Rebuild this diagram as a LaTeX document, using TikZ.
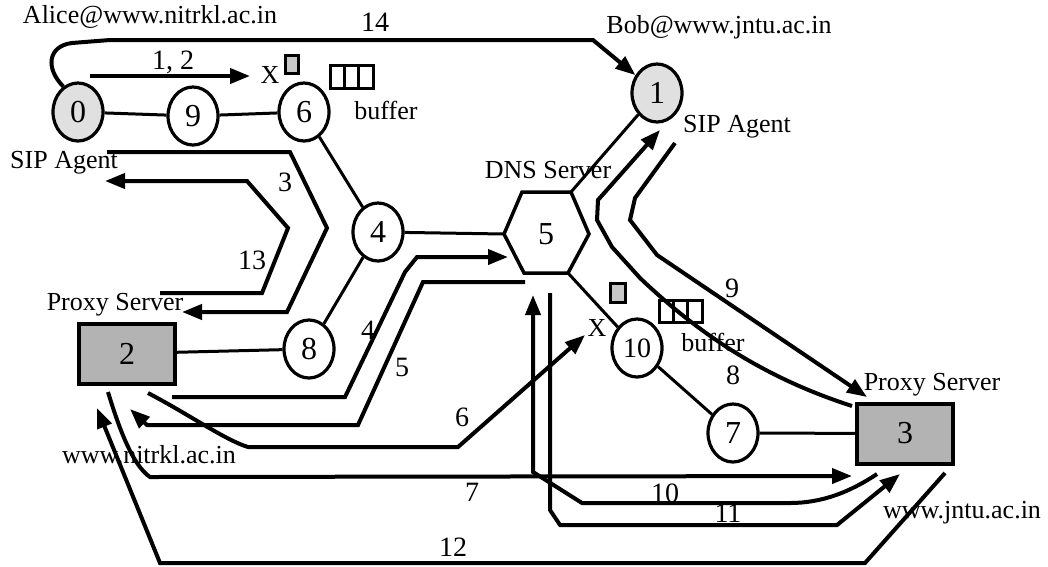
\documentclass[tikz,border=0pt]{standalone}
\usepackage{fontspec}
\setmainfont{Liberation Serif}
\usetikzlibrary{arrows.meta,shapes.geometric}
\definecolor{agentgray}{HTML}{E0E0E0}
\definecolor{proxygray}{HTML}{B3B3B3}
\definecolor{pktgray}{HTML}{C8C8C8}
\begin{document}
\begin{tikzpicture}[x=1pt,y=-1pt,
  router/.style={ellipse,draw,line width=3.2pt,minimum width=50pt,minimum height=58pt,inner sep=0pt,font=\fontsize{32}{32}\selectfont,fill=white},
  agent/.style={router,fill=agentgray},
  proxy/.style={rectangle,draw,line width=4pt,fill=proxygray,minimum width=96pt,minimum height=60pt,inner sep=0pt,font=\fontsize{32}{32}\selectfont},
  link/.style={line width=3pt},
  msg/.style={line width=4pt,line join=miter},
  arr/.style={msg,-{Triangle[length=20pt,width=15pt]}},
  txt/.style={inner sep=0pt,font=\fontsize{26}{28}\selectfont},
  num/.style={inner sep=0pt,font=\fontsize{28}{28}\selectfont},
  pkt/.style={draw,line width=3pt,fill=pktgray},
  buf/.style={draw,line width=3pt},
]
\useasboundingbox (0,0) rectangle (1048,566);

% ---------- nodes ----------
\node[agent]  (n0) at (78,112) {0};
\node[router] (n9) at (193,116) {9};
\node[router] (n6) at (304,112) {6};
\node[agent]  (n1) at (657,93) {1};
\node[router] (n4) at (378,232) {4};
\node[router] (n8) at (309,349) {8};
\node[router,font=\fontsize{28}{28}\selectfont] (n10) at (637,348) {10};
\node[router] (n7) at (733,433) {7};
\node[proxy]  (n2) at (127,353.5) {2};
\node[proxy]  (n3) at (905,433.5) {3};

% DNS hexagon
\coordinate (hL)  at (504,234);
\coordinate (hTL) at (522,192);
\coordinate (hTR) at (571,192);
\coordinate (hR)  at (589,234);
\coordinate (hBR) at (568,273);
\coordinate (hBL) at (524,273);
\draw[line width=3.5pt,line join=miter,fill=white] (hL) -- (hTL) -- (hTR) -- (hR) -- (hBR) -- (hBL) -- cycle;
\node[inner sep=0pt,font=\fontsize{32}{32}\selectfont] (n5) at (546,234) {5};

% ---------- links ----------
\draw[link] (n0) -- (n9);
\draw[link] (n9) -- (n6);
\draw[link] (n6) -- (n4);
\draw[link] (n4) -- (n8);
\draw[link] (n2) -- (n8);
\draw[link] (n4) -- (hL);
\draw[link] (hTR) -- (n1);
\draw[link] (hBR) -- (n10);
\draw[link] (n10) -- (n7);
\draw[link] (n7) -- (n3);

% ---------- packets and buffers ----------
\draw[pkt] (285,55) rectangle (298,73);
\draw[buf] (330,65) rectangle (373,88);
\draw[buf] (344.3,65) -- (344.3,88) (358.7,65) -- (358.7,88);
\draw[pkt] (610,283) rectangle (625,302);
\draw[buf] (659,300) rectangle (702,322);
\draw[buf] (673.3,300) -- (673.3,322) (687.7,300) -- (687.7,322);

% ---------- texts ----------
\node[txt] (tAlice) at (150,17) {Alice@www.nitrkl.ac.in};
\node[txt] (tBob) at (719,27) {Bob@www.jntu.ac.in};
\node[txt] (tSIPa) at (64,163) {SIP Agent};
\node[txt] (tSIPb) at (737,127) {SIP Agent};
\node[txt] (tDNS) at (548,170) {DNS Server};
\node[txt] (tProxyA) at (115,305) {Proxy Server};
\node[txt] (tProxyB) at (932,385) {Proxy Server};
\node[txt] (tDomA) at (149,455) {www.nitrkl.ac.in};
\node[txt] (tDomB) at (962,513) {www.jntu.ac.in};
\node[txt] (tBufA) at (386,110) {buffer};
\node[txt] (tBufB) at (713,342) {buffer};
\node[txt] (tXa) at (270,75) {X};
\node[txt] (tXb) at (597,328) {X};

% ---------- message labels ----------
\node[num] (l12) at (173,62) {1, 2};
\node[num] (l14) at (375,22) {14};
\node[num] (l3) at (285,182) {3};
\node[num] (l13) at (252,260) {13};
\node[num] (l4) at (368,330) {4};
\node[num] (l5) at (402,367) {5};
\node[num] (l6) at (462,417) {6};
\node[num] (l7) at (472,492) {7};
\node[num] (l8) at (733,375) {8};
\node[num] (l9) at (732,288) {9};
\node[num] (l10) at (665,493) {10};
\node[num] (l11) at (728,513) {11};
\node[num] (l12b) at (453,547) {12};

% ---------- message paths ----------
% 1, 2
\coordinate (m1s) at (90,76);
\coordinate (m1e) at (250,76);
\draw[arr] (m1s) -- (m1e);
% 14
\draw[arr] (n0.120) .. controls (45,68) and (48,46) .. (72,43) -- (110,40) -- (593,40) -- (n1);
% 3
\coordinate (m3s) at (107,152);
\coordinate (m3e) at (182,312);
\draw[arr] (m3s) -- (290,152) -- (327,228) -- (287,312) -- (m3e);
% 13
\coordinate (m13s) at (160,293);
\coordinate (m13e) at (105,181);
\draw[arr] (m13s) -- (262,293) -- (288,228) -- (247,181) -- (m13e);
% 4
\coordinate (m4s) at (172,397);
\coordinate (m4e) at (508,257);
\draw[arr] (m4s) -- (345,397) -- (405,272) -- (417,257) -- (m4e);
% 5
\coordinate (m5s) at (525,282);
\coordinate (m5e) at (130,409);
\draw[arr] (m5s) -- (423,282) -- (358,425) -- (147,425) -- (m5e);
% 6
\coordinate (m6s) at (148,393);
\coordinate (m6e) at (585,335);
\draw[arr] (m6s) .. controls (190,415) and (225,440) .. (248,447) -- (458,447) -- (m6e);
% 7
\coordinate (m7s) at (108,392);
\coordinate (m7e) at (852,476);
\draw[arr] (m7s) .. controls (118,425) and (132,465) .. (150,477) -- (m7e);
% 8
\coordinate (m8s) at (852,406);
\coordinate (m8e) at (660,130);
\draw[arr] (m8s) .. controls (765,378) and (700,335) .. (640,278) -- (612,247) -- (597,220) -- (598,200) -- (m8e);
% 9
\coordinate (m9s) at (675,143);
\coordinate (m9e) at (867,397);
\draw[arr] (m9s) -- (635,198) -- (630,220) -- (657,255) -- (m9e);
% 10
\coordinate (m10s) at (877,474);
\coordinate (m10e) at (533,295);
\draw[arr] (m10s) .. controls (850,492) and (822,503) .. (790,503) -- (582,503) -- (533,472) -- (m10e);
% 11
\coordinate (m11s) at (550,293);
\coordinate (m11e) at (900,474);
\draw[arr] (m11s) -- (550,510) -- (560,525) -- (837,525) -- (m11e);
% 12
\coordinate (m12s) at (945,473);
\coordinate (m12e) at (97,408);
\draw[arr] (m12s) -- (865,563) -- (160,563) -- (m12e);
\end{tikzpicture}
\end{document}
